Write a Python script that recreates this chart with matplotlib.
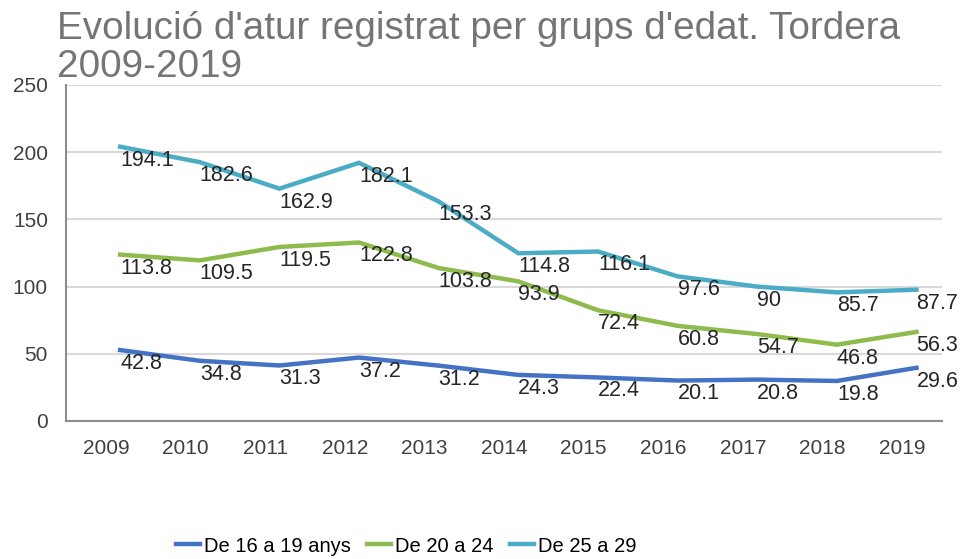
import numpy as np
import matplotlib.pyplot as plt

plt.rcParams['font.family'] = ['Liberation Sans', 'DejaVu Sans']

years = ['2009', '2010', '2011', '2012', '2013', '2014', '2015', '2016', '2017', '2018', '2019']
de_16_19 = [42.8, 34.8, 31.3, 37.2, 31.2, 24.3, 22.4, 20.1, 20.8, 19.8, 29.6]
de_20_24 = [113.8, 109.5, 119.5, 122.8, 103.8, 93.9, 72.4, 60.8, 54.7, 46.8, 56.3]
de_25_29 = [194.1, 182.6, 162.9, 182.1, 153.3, 114.8, 116.1, 97.6, 90, 85.7, 87.7]

series = [
    ('De 16 a 19 anys', de_16_19, '#4472C4'),
    ('De 20 a 24', de_20_24, '#8DBB4C'),
    ('De 25 a 29', de_25_29, '#4BACC6'),
]

# the source chart draws its lines a bit right of the ticks and ~10 above the labels
x_shift = 0.18
y_shift = 10

fig = plt.figure(figsize=(9.65, 5.59), dpi=100)
ax = fig.add_axes([66/965, 138/559, 876/965, 336/559])

x = np.arange(len(years))
for name, vals, col in series:
    vals = np.array(vals)
    ax.plot(x + x_shift, vals + y_shift, color=col, lw=3.2, label=name,
            solid_joinstyle='miter')
    for xi, v in zip(x, vals):
        ax.text(xi + x_shift, v, f'{v:g}', ha='left', va='center',
                fontsize=15.5, color='#262626')

ax.set_xlim(-0.5, len(years) - 0.5)
ax.set_ylim(0, 250)
ax.set_yticks(range(0, 251, 50))
ax.set_xticks(x)
ax.set_xticklabels(years)
ax.tick_params(axis='both', length=0, labelsize=15, colors='#404040')
ax.tick_params(axis='y', pad=13)
ax.tick_params(axis='x', pad=13)
ax.grid(axis='y', color='#D9D9D9', lw=1.5)
ax.set_axisbelow(True)
for s in ['top', 'right']:
    ax.spines[s].set_visible(False)
for s in ['left', 'bottom']:
    ax.spines[s].set_color('#8C8C8C')
    ax.spines[s].set_linewidth(1.5)

fig.text(57/965, 1 - 11/559, "Evolució d'atur registrat per grups d'edat. Tordera\n2009-2019",
         ha='left', va='top', fontsize=27.8, color='#757575', linespacing=1.08)

fig.legend(loc='center', bbox_to_anchor=(406/965, 1 - 546/559), ncol=3,
           frameon=False, fontsize=14.5, handlelength=1.2, columnspacing=0.8,
           handletextpad=0.2)

fig.savefig('out.png', dpi=100)
